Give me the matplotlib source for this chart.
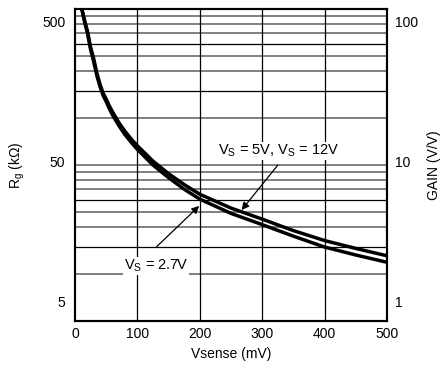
import numpy as np
import matplotlib.pyplot as plt
from matplotlib.ticker import NullLocator

plt.rcParams['font.family'] = ['Liberation Sans', 'DejaVu Sans']
plt.rcParams['mathtext.fontset'] = 'custom'
plt.rcParams['mathtext.rm'] = 'Liberation Sans'
plt.rcParams['mathtext.it'] = 'Liberation Sans:italic'
plt.rcParams['font.size'] = 10

# curves (gain in V/V, Rg = 5 kOhm x gain)
vsense = [11, 15, 20, 25, 30, 35, 40, 45, 50, 55, 60, 70, 80, 90, 100,
          125, 150, 175, 200, 250, 300, 350, 400, 450, 500]
gain_5v_12v = [100, 86, 72, 57, 48, 39, 33, 29, 26.5, 24, 22, 18.8, 16.5, 14.7, 13.3,
               10.6, 8.8, 7.5, 6.5, 5.3, 4.5, 3.8, 3.28, 2.92, 2.62]
gain_2v7 = [100, 84, 70, 55, 46, 37.5, 32, 28, 25.5, 23, 21, 18, 15.7, 14, 12.6,
            10.0, 8.3, 7.0, 6.05, 4.9, 4.15, 3.5, 2.98, 2.65, 2.38]

# log grid of the chart (two decades), dark lines at 3, 6, 30, 60
grid_grey = [2, 4, 5, 7, 8, 9, 10, 20, 40, 50, 70, 80, 90]
grid_black = [3, 6, 30, 60]
x_ticks = [0, 100, 200, 300, 400, 500]
x_grid = [100, 200, 300, 400]

# the reference prints its labels a bit off the decades
label_pos = [1.33, 10.5, 83]
rg_labels = ['5', '50', '500']
gain_labels = ['1', '10', '100']

fig = plt.figure(figsize=(4.42, 3.71), dpi=100)
ax = fig.add_axes([0.1697, 0.1348, 0.7059, 0.8404])
ax.set_yscale('log')
ax.set_xlim(0, 500)
ax.set_ylim(1, 100)

for g in grid_grey:
    ax.axhline(g, color='#7f7f7f', lw=1.4, zorder=1)
for g in grid_black:
    ax.axhline(g, color='black', lw=0.9, zorder=1)
for v in x_grid:
    ax.axvline(v, color='black', lw=0.9, zorder=1)

for gain in (gain_5v_12v, gain_2v7):
    ax.plot(vsense, gain, color='black', lw=2.5, zorder=4,
            solid_capstyle='butt', solid_joinstyle='round')

box = dict(facecolor='white', edgecolor='none', pad=0.8)
ax.text(327, 12.3, r'$\mathregular{V_S}$ = 5V, $\mathregular{V_S}$ = 12V',
        ha='center', va='center', fontsize=10.5, bbox=box, zorder=2)
ax.text(130, 2.25, r'$\mathregular{V_S}$ = 2.7V',
        ha='center', va='center', fontsize=10.5, bbox=box, zorder=2)

arrow = dict(arrowstyle='-|>', color='black', lw=0.9, mutation_scale=11,
             shrinkA=0, shrinkB=0)
ax.annotate('', xy=(267, 5.15), xytext=(325, 10.0), arrowprops=arrow, zorder=3)
ax.annotate('', xy=(199, 5.47), xytext=(131, 3.0), arrowprops=arrow, zorder=3)

ax.set_xticks(x_ticks)
ax.set_yticks(label_pos)
ax.set_yticklabels(rg_labels)
ax.yaxis.set_minor_locator(NullLocator())
ax.tick_params(length=0, pad=7, labelsize=10)
ax.tick_params(axis='x', pad=4)

ax2 = ax.twinx()
ax2.set_yscale('log')
ax2.set_ylim(1, 100)
ax2.set_yticks(label_pos)
ax2.set_yticklabels(gain_labels)
ax2.yaxis.set_minor_locator(NullLocator())
ax2.tick_params(length=0, pad=6, labelsize=10)

for a in (ax, ax2):
    for s in a.spines.values():
        s.set_linewidth(1.5)

ax.set_xlabel('Vsense (mV)', fontsize=10)
ax.xaxis.set_label_coords(0.5, -0.085)
ax.set_ylabel(r'$\mathregular{R_g}$ (kΩ)', fontsize=10)
ax.yaxis.set_label_coords(-0.155, 0.5)
ax2.set_ylabel('GAIN (V/V)', fontsize=10)
ax2.yaxis.set_label_coords(1.128, 0.5)

fig.savefig('out.png', dpi=100)
